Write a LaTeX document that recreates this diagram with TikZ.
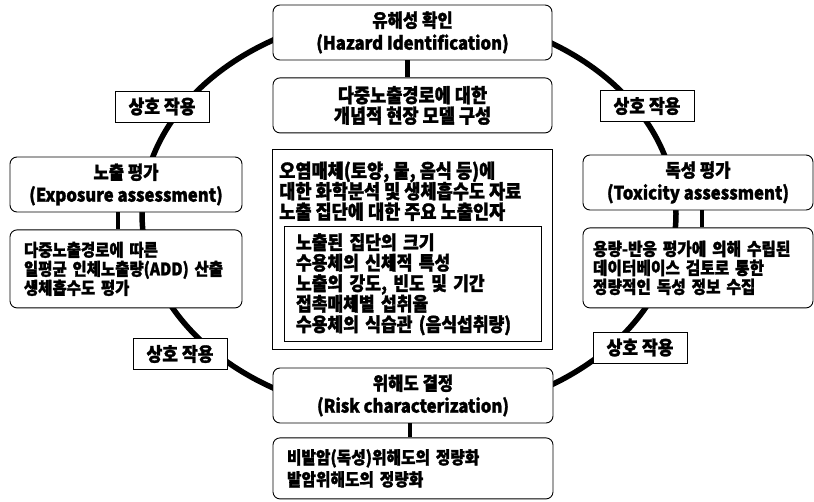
\documentclass[tikz,border=0pt]{standalone}
\usepackage{fontspec}
\setmainfont{Noto Sans CJK KR}[FakeStretch=0.9, BoldFeatures={FakeBold=1.5}]
\usetikzlibrary{positioning}
\setlength{\lineskiplimit}{-100pt}

\begin{document}
\begin{tikzpicture}[x=1pt, y=-1pt, node distance=17pt,
    box/.style={draw, line width=0.9pt, rounded corners=7pt, fill=white, inner sep=0pt},
    titlebox/.style={box, minimum height=55pt, align=center, font=\bfseries\fontsize{18.5}{22.5}\selectfont},
    textbox/.style={box, inner xsep=14pt, align=left, font=\bfseries\fontsize{17.2}{19}\selectfont},
    plainbox/.style={box, rounded corners=0pt},
    tagbox/.style={draw, line width=0.8pt, fill=white, minimum width=94pt, minimum height=31pt, inner sep=0pt, font=\bfseries\fontsize{19}{19}\selectfont},
    ring/.style={line width=5.5pt},
    link/.style={line width=4.5pt}]
  \useasboundingbox (0,0) rectangle (814,501);

  % cycle behind the boxes
  \coordinate (hub) at (409,214);
  \draw[ring] (hub) ellipse [x radius=267, y radius=202];

  % top
  \node[titlebox, minimum width=279pt] (haz) at (412.5,32.5) {유해성 확인\\(Hazard Identification)};
  \node[titlebox, minimum width=279pt, below=of haz, font=\bfseries\fontsize{19.5}{20.5}\selectfont] (model) {다중노출경로에 대한\\개념적 현장 모델 구성};

  % middle frame
  \node[plainbox, minimum width=280pt, minimum height=200pt, below=16pt of model] (frame) {};
  \node[anchor=north west, inner sep=0pt, align=left, font=\bfseries\fontsize{19.5}{20.5}\selectfont] (media) at ([xshift=7pt,yshift=-12pt]frame.north west)
    {오염매체(토양, 물, 음식 등)에\\대한 화학분석 및 생체흡수도 자료\\노출 집단에 대한 주요 노출인자};
  \node[plainbox, minimum width=257pt, minimum height=115pt, text width=233pt, inner xsep=12pt, align=left,
    font=\bfseries\fontsize{19}{20.5}\selectfont, above=8pt of frame.south] (factors)
    {노출된 집단의 크기\\수용체의 신체적 특성\\노출의 강도, 빈도 및 기간\\접촉매체별 섭취율\\수용체의 식습관 (음식섭취량)};

  % left
  \node[titlebox, minimum width=232pt] (expo) at (126,184.5) {노출 평가\\(Exposure assessment)};
  \node[textbox, text width=204pt, minimum height=78pt, below=of expo] (exposub)
    {다중노출경로에 따른\\일평균 인체노출량(ADD) 산출\\생체흡수도 평가};

  % right
  \node[titlebox, minimum width=230pt] (tox) at (698,182.5) {독성 평가\\(Toxicity assessment)};
  \node[textbox, text width=210pt, inner xsep=10pt, minimum height=80pt, below=of tox, font=\bfseries\fontsize{17.5}{19}\selectfont] (toxsub)
    {용량-반응 평가에 의해 수립된\\데이터베이스 검토로 통한\\정량적인 독성 정보 수집};

  % bottom
  \node[titlebox, minimum width=280pt] (risk) at (413,395.5) {위해도 결정\\(Risk characterization)};
  \node[textbox, text width=252pt, minimum height=61pt, below=14pt of risk, font=\bfseries\fontsize{17.5}{22}\selectfont] (risksub)
    {비발암(독성)위해도의 정량화\\발암위해도의 정량화};

  % interaction tags on the cycle
  \node[tagbox] (tagnw) at (162,106.5) {상호 작용};
  \node[tagbox] (tagne) at (647,106) {상호 작용};
  \node[tagbox] (tagsw) at (180,354) {상호 작용};
  \node[tagbox] (tagse) at (640,347.5) {상호 작용};

  \draw[link] ([xshift=-5pt]haz.south) -- ([xshift=-5pt]model.north);
  \draw[link] ([xshift=-8pt]expo.south) -- ([xshift=-8pt]exposub.north);
  \draw[link] ([xshift=4pt]tox.south) -- ([xshift=4pt]toxsub.north);
  \draw[link] ([xshift=-3pt]risk.south) -- ([xshift=-3pt]risksub.north);
\end{tikzpicture}
\end{document}
